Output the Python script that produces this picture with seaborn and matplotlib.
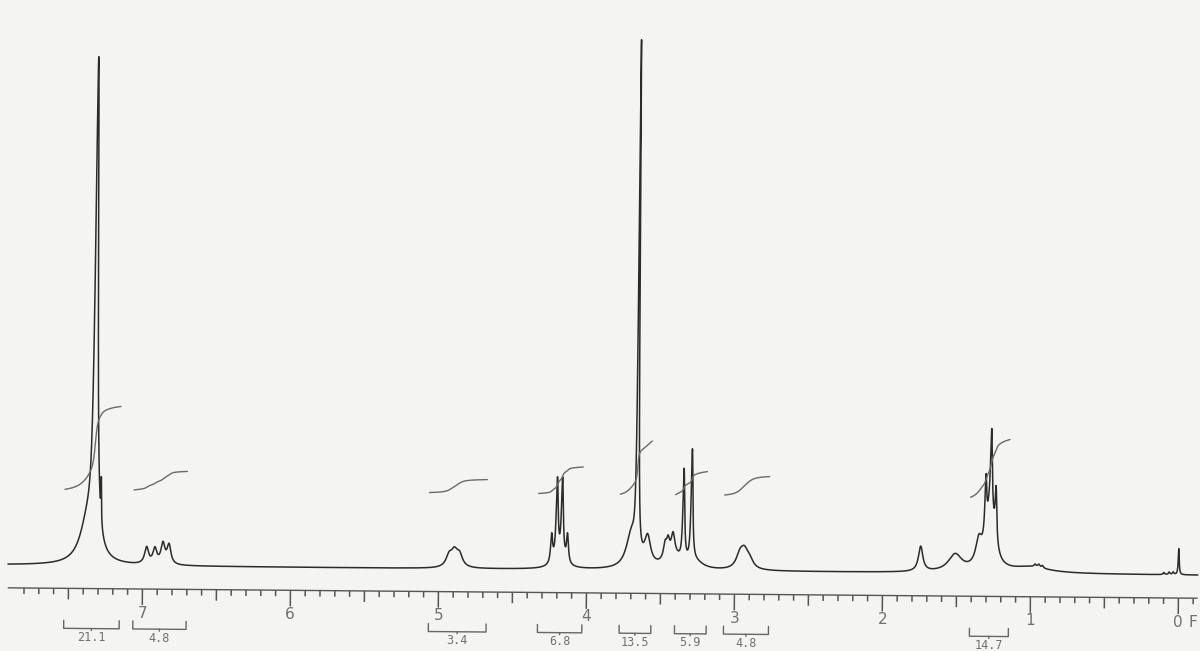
import numpy as np
import pandas as pd
import matplotlib
matplotlib.use('Agg')
import matplotlib.pyplot as plt
import matplotlib.transforms as mtransforms
import seaborn as sns

# peak list: position (ppm), height, half width (ppm)
peak_ppm = [7.375, 7.326, 7.284,
            6.974, 6.918, 6.864, 6.823,
            4.93, 4.895, 4.86,
            4.238, 4.202, 4.167, 4.131, 4.185,
            3.70, 3.66, 3.59,
            3.472, 3.452, 3.418, 3.42, 3.347, 3.292, 3.26,
            2.965, 2.935, 2.90,
            1.744, 1.511,
            1.352, 1.307, 1.275, 1.271, 1.238, 1.0,
            0.97, 0.945, 0.92,
            0.10, 0.064, 0.037, 0.0]
peak_height = [40, 485, 40,
               16.5, 15, 20, 19,
               11, 14, 12,
               28, 81, 81, 28, 6,
               33, 510, 28,
               14, 15, 19, 14, 91, 112, 6,
               13, 15, 8,
               25, 17,
               24, 55.5, 60, 77, 52, 6,
               2.5, 3, 2.5,
               2, 2.5, 2.5, 26]
peak_hwhm = [0.06, 0.012, 0.0025,
             0.016, 0.016, 0.016, 0.016,
             0.025, 0.025, 0.025,
             0.008, 0.008, 0.008, 0.008, 0.06,
             0.04, 0.005, 0.025,
             0.012, 0.012, 0.014, 0.06, 0.007, 0.007, 0.06,
             0.03, 0.03, 0.03,
             0.018, 0.055,
             0.025, 0.007, 0.035, 0.007, 0.007, 0.15,
             0.008, 0.008, 0.008,
             0.006, 0.006, 0.006, 0.004]

# integration regions (ppm) and integral values
integral_start = [7.53, 7.063, 5.066, 4.329, 3.777, 3.403, 3.072, 1.410]
integral_end = [7.155, 6.703, 4.676, 4.029, 3.563, 3.189, 2.768, 1.147]
integral_value = [21.1, 4.8, 3.4, 6.8, 13.5, 5.9, 4.8, 14.7]
integral_labels = ['21.1', '4.8', '3.4', '6.8', '13.5', '5.9', '4.8', '14.7']

tick_values = [7, 6, 5, 4, 3, 2, 1, 0]
tick_labels = ['7', '6', '5', '4', '3', '2', '1', '0']


def spectrum(ppm):
    y = np.zeros_like(ppm)
    for c, h, w in zip(peak_ppm, peak_height, peak_hwhm):
        y += h / (1 + ((ppm - c) / w) ** 2)
    return y


ppm = np.linspace(7.91, -0.13, 12000)
df = pd.DataFrame({'ppm': ppm, 'intensity': spectrum(ppm)})

sns.set_style('white')
fig = plt.figure(figsize=(12, 6.51), dpi=100, facecolor='#f4f4f3')
ax = fig.add_axes([0, 0, 1, 1])
ax.set_xlim(7.978, -0.130)
ax.set_ylim(-81, 570)
ax.set_axis_off()

# the scanned sheet sits about half a degree clockwise
tr = ax.transData + mtransforms.Affine2D().rotate_deg_around(600, 325.5, -0.5)

sns.lineplot(data=df, x='ppm', y='intensity', color='#2b2b2b', lw=1.1,
             estimator=None, sort=False, ax=ax, transform=tr)

# integral traces
for s, e, v in zip(integral_start, integral_end, integral_value):
    part = df[(df.ppm <= s) & (df.ppm >= e)]
    cum = part.intensity.cumsum()
    cum = (cum - cum.iloc[0]) / (cum.iloc[-1] - cum.iloc[0])
    sns.lineplot(x=part.ppm.values, y=(76 + 3.95 * v * cum).values, color='#6a6a6a',
                 lw=1.0, estimator=None, sort=False, ax=ax, transform=tr)

# ppm scale drawn like the plotter does
axis_y = -23
ticks = np.round(np.arange(-0.1, 7.81, 0.1), 1)
k = np.round(ticks * 10).astype(int)
tick_len = np.where(k % 10 == 0, 16, np.where(k % 5 == 0, 11, 6))
ax.hlines(axis_y, 7.91, -0.13, color='#555555', lw=1.0, transform=tr)
ax.vlines(ticks, axis_y - tick_len, axis_y, color='#555555', lw=1.1, transform=tr)
for t, lab in zip(tick_values, tick_labels):
    ax.text(t, -47, lab, ha='center', va='center', fontsize=11, color='#707070', transform=tr)
ax.text(-0.1, -47, 'F', ha='center', va='center', fontsize=11, color='#707070', transform=tr)

# integration brackets
for s, e, lab in zip(integral_start, integral_end, integral_labels):
    m = (s + e) / 2
    ax.plot([s, s, e, e], [-55, -63, -63, -55], color='#666666', lw=1.0, transform=tr)
    ax.plot([m, m], [-63, -65], color='#666666', lw=1.0, transform=tr)
    ax.text(m, -72, lab, ha='center', va='center', fontsize=8.5, color='#707070',
            family='DejaVu Sans Mono', transform=tr)

fig.savefig('out.png', dpi=100, facecolor=fig.get_facecolor())
plt.close(fig)
